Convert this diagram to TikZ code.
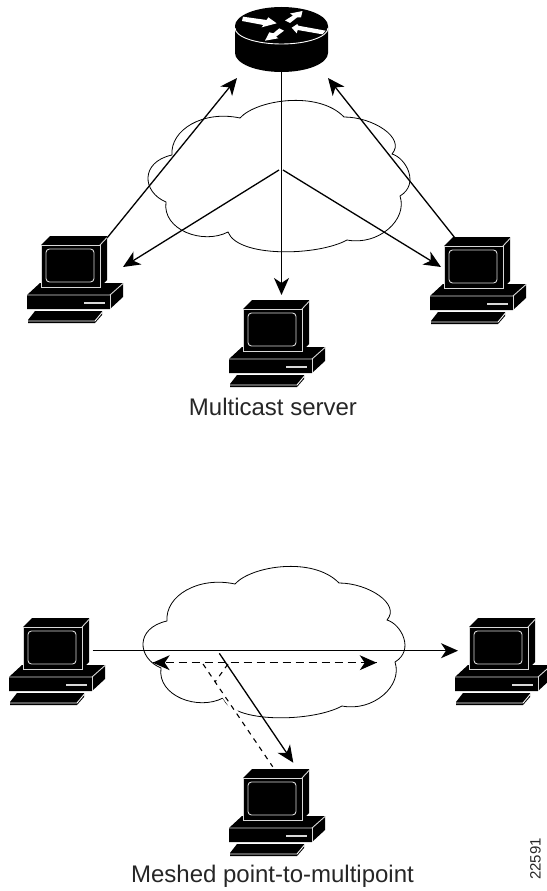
\documentclass[tikz,border=0pt]{standalone}
\usepackage{fontspec}
\setmainfont{Liberation Sans}
\usetikzlibrary{arrows.meta}
\tikzset{
  x=1pt,y=-1pt,
  tip/.tip={Stealth[length=17pt,width=15pt,inset=5pt]},
  link/.style={line width=1.3pt,-tip},
  dashlink/.style={line width=1.2pt,dash pattern=on 8pt off 5pt},
  thindash/.style={line width=1.1pt,dash pattern=on 5pt off 5pt},
  cloudline/.style={line width=0.8pt},
  hi/.style={white!85!black,line width=0.9pt},
  label/.style={font=\fontsize{24}{26}\selectfont,anchor=base,inner sep=0pt,text=black!85},
  pcicon/.pic={
    \fill[black] (14,9)--(23,0)--(80,0)--(80,44)--(73,51)--(14,51)--cycle;
    \fill[black] (0,59)--(13,47)--(96,47)--(96,61)--(83,73)--(0,73)--cycle;
    \fill[black] (8,75)--(75,75)--(75,79)--(68,87)--(1,87)--(1,84)--cycle;
    \draw[hi] (14,9) rectangle (73,51);
    \draw[hi] (73,9)--(80,1.5);
    \draw[hi,rounded corners=3.5pt] (19,13) rectangle (67,46);
    \draw[hi] (0,59)--(83,59)--(96,47.5);
    \draw[hi] (83,59)--(83,73);
    \draw[hi,line width=1.3pt] (57,67)--(78,67);
    \draw[white,line width=0.9pt] (1,85)--(68,85)--(75,76.5);
  },
  cloudshape/.pic={
    \draw[cloudline] (24,55)
      .. controls (22,30) and (55,10) .. (92,18)
      .. controls (108,0) and (170,-10) .. (196,17)
      .. controls (225,17) and (258,38) .. (244,54)
      .. controls (258,58) and (272,84) .. (252,96)
      .. controls (260,120) and (230,146) .. (199,140)
      .. controls (170,156) and (90,158) .. (80,132)
      .. controls (55,145) and (14,130) .. (18,102)
      .. controls (-6,92) and (-8,62) .. (24,55);
  }
}
\begin{document}
\begin{tikzpicture}
\useasboundingbox (0,0) rectangle (546,891);
% clouds
\pic (cloudA) at (148,100) {cloudshape};
\pic (cloudB) at (143,566) {cloudshape};
% router
\fill[black] (235,26) arc[start angle=180,end angle=0,x radius=46.5pt,y radius=19pt]
  -- (328,53) arc[start angle=0,end angle=-180,x radius=46.5pt,y radius=19pt] -- cycle;
\draw[white,line width=0.9pt] (235,28) arc[start angle=180,end angle=360,x radius=46.5pt,y radius=16pt];
\fill[white] (243,16.7)--(266.7,20)--(268.3,17.3)--(276.7,23.3)--(261.7,27.3)--(263.3,25)--(242,21)--cycle;
\fill[white] (285,20.5)--(293,15.5)--(290,13.5)--(302.5,11)--(301,17.5)--(297,17.5)--(290,23)--cycle;
\fill[white] (291.7,27.7)--(297.3,24)--(298.3,25.7)--(325.7,30.7)--(322.3,34.3)--(297.7,30)--(296.7,33.3)--cycle;
\fill[white] (265,40.7)--(269.3,32.3)--(273.3,33.3)--(279.3,28.3)--(284,30.7)--(276,36.7)--(278.3,38.3)--cycle;
% computers
\pic (pcA) at (27,236) {pcicon};
\pic (pcB) at (229,300) {pcicon};
\pic (pcC) at (430,237) {pcicon};
\pic (pcD) at (9,618) {pcicon};
\pic (pcE) at (455,618) {pcicon};
\pic (pcF) at (229,769) {pcicon};
% connector ends
\coordinate (routerL) at (237,78);
\coordinate (routerR) at (328,78);
\coordinate (routerB) at (281.5,72);
\coordinate (pcAtop) at (107,238);
\coordinate (pcCtop) at (455,238);
\coordinate (pcAin) at (123,267);
\coordinate (pcBin) at (281.5,295);
\coordinate (pcCin) at (441,267);
\coordinate (hubL) at (279,170);
\coordinate (hubR) at (283,170);
\coordinate (pcDout) at (92.7,650.7);
\coordinate (pcEin) at (458,650.7);
\coordinate (dashL) at (152.7,662.7);
\coordinate (dashR) at (376.7,662.7);
\coordinate (solidS) at (219.3,653.3);
\coordinate (pcFin) at (293.3,762.7);
\coordinate (dashA) at (203,664);
\coordinate (pcFdash) at (272.7,766.7);
\coordinate (gapS) at (221,691);
\coordinate (gapE) at (237,714);
\coordinate (dashB) at (228,664);
\coordinate (dashBend) at (215,682);
% connectors
\draw[link] (pcAtop) -- (routerL);
\draw[link] (pcCtop) -- (routerR);
\draw[link] (routerB) -- (pcBin);
\draw[link] (hubL) -- (pcAin);
\draw[link] (hubR) -- (pcCin);
\draw[link] (pcDout) -- (pcEin);
\draw[white,line width=5pt] (gapS) -- (gapE);
\draw[link] (solidS) -- (pcFin);
\draw[dashlink] (dashL) -- (dashR);
\fill[black] (dashL) -- ++(17,-7.5) -- ++(-5,7.5) -- ++(5,7.5) -- cycle;
\fill[black] (dashR) -- ++(-17,-7.5) -- ++(5,7.5) -- ++(-5,7.5) -- cycle;
\draw[thindash] (dashA) -- (pcFdash);
\draw[thindash] (dashB) -- (dashBend);
% text
\node[label] (capA) at (273,415.5) {Multicast server};
\node[label] (capB) at (272.5,882) {Meshed point-to-multipoint};
\node[font=\fontsize{15}{17}\selectfont,rotate=90,inner sep=0pt,text=black!85] (figno) at (535.5,859) {22591};
\end{tikzpicture}
\end{document}
